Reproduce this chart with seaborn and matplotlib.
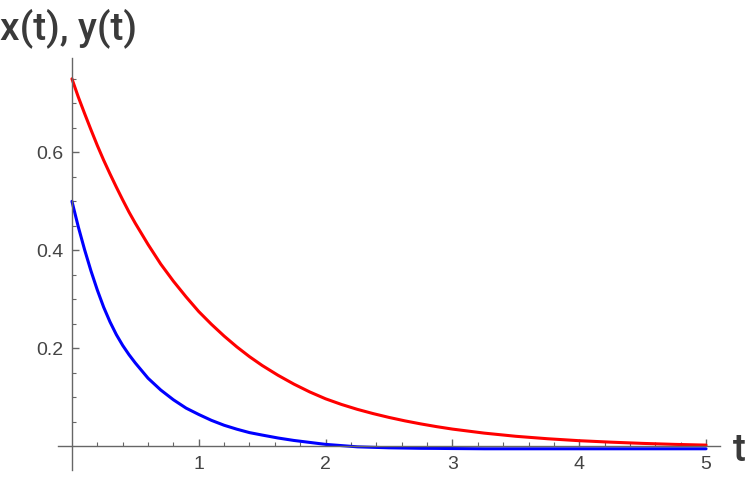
import matplotlib
matplotlib.use("Agg")
import matplotlib.pyplot as plt
from matplotlib.ticker import FixedLocator
import seaborn as sns

# values
t_vals = [0.0, 0.05, 0.1, 0.15, 0.2, 0.25, 0.3, 0.35, 0.4, 0.45, 0.5,
          0.6, 0.7, 0.8, 0.9, 1.0, 1.1, 1.2, 1.3, 1.4, 1.5, 1.625, 1.75, 1.875,
          2.0, 2.125, 2.25, 2.375, 2.5, 2.625, 2.75, 2.875, 3.0,
          3.25, 3.5, 3.75, 4.0, 4.25, 4.5, 4.75, 5.0]
x_red = [0.750, 0.713, 0.679, 0.646, 0.614, 0.584, 0.556, 0.529, 0.503, 0.478, 0.455,
         0.412, 0.372, 0.337, 0.305, 0.275, 0.249, 0.225, 0.203, 0.183, 0.165, 0.145, 0.127, 0.111,
         0.097, 0.0855, 0.0755, 0.0668, 0.0590, 0.0520, 0.0458, 0.0402, 0.0352,
         0.027, 0.0205, 0.0155, 0.0115, 0.0085, 0.006, 0.004, 0.0025]
y_blue = [0.500, 0.448, 0.401, 0.358, 0.319, 0.284, 0.254, 0.228, 0.206, 0.187, 0.170,
          0.139, 0.115, 0.095, 0.078, 0.065, 0.053, 0.043, 0.035, 0.028, 0.023, 0.017, 0.012, 0.008,
          0.004, 0.0015, -0.001, -0.002, -0.003, -0.0035, -0.004, -0.0042, -0.0045,
          -0.005, -0.005, -0.005, -0.005, -0.005, -0.005, -0.005, -0.005]

x_ticks = [1, 2, 3, 4, 5]
y_ticks = [0.2, 0.4, 0.6]
y_tick_labels = ["0.2", "0.4", "0.6"]

sns.set_theme(style="white")
plt.rcParams["font.family"] = ["Liberation Sans", "DejaVu Sans"]

fig = plt.figure(figsize=(7.5, 4.79), dpi=100)
ax = fig.add_axes([58 / 750, 9 / 479, 662 / 750, 412 / 479])

sns.lineplot(x=t_vals, y=y_blue, color="#0000ff", linewidth=2.2, ax=ax)
sns.lineplot(x=t_vals, y=x_red, color="#ff0000", linewidth=2.2, ax=ax)

ax.set_xlim(-0.110, 5.110)
ax.set_ylim(-0.0483, 0.7925)

axis_col = "#666666"
for side in ["top", "right"]:
    ax.spines[side].set_visible(False)
ax.spines["left"].set_position(("data", 0))
ax.spines["bottom"].set_position(("data", 0))
for side in ["left", "bottom"]:
    ax.spines[side].set_color(axis_col)
    ax.spines[side].set_linewidth(1.0)

ax.xaxis.set_major_locator(FixedLocator(x_ticks))
ax.xaxis.set_minor_locator(FixedLocator([m / 5 for m in range(1, 26) if m % 5 != 0]))
ax.yaxis.set_major_locator(FixedLocator(y_ticks))
ax.yaxis.set_minor_locator(FixedLocator([m / 20 for m in range(1, 16) if m % 4 != 0]))
ax.set_xticklabels([str(v) for v in x_ticks])
ax.set_yticklabels(y_tick_labels)

ax.tick_params(axis="both", which="both", bottom=True, left=True, direction="in",
               color=axis_col)
ax.tick_params(axis="both", which="major", length=5, width=1,
               labelcolor="#444444", labelsize=14)
ax.tick_params(axis="both", which="minor", length=3, width=0.8)
ax.tick_params(axis="x", which="major", pad=7)
ax.tick_params(axis="y", which="major", pad=6)
ax.set_xlabel("")
ax.set_ylabel("")

fig.text(0.0, 1 - 39 / 479, "x(t), y(t)", fontsize=28, color="#3a3a3a",
         family=["Roboto", "DejaVu Sans"], fontweight="medium", va="baseline")
fig.text(733 / 750, 1 - 461 / 479, "t", fontsize=28, color="#3a3a3a",
         family=["Roboto", "DejaVu Sans"], fontweight="medium", va="baseline")

fig.savefig("out.png", dpi=100)
plt.close(fig)
